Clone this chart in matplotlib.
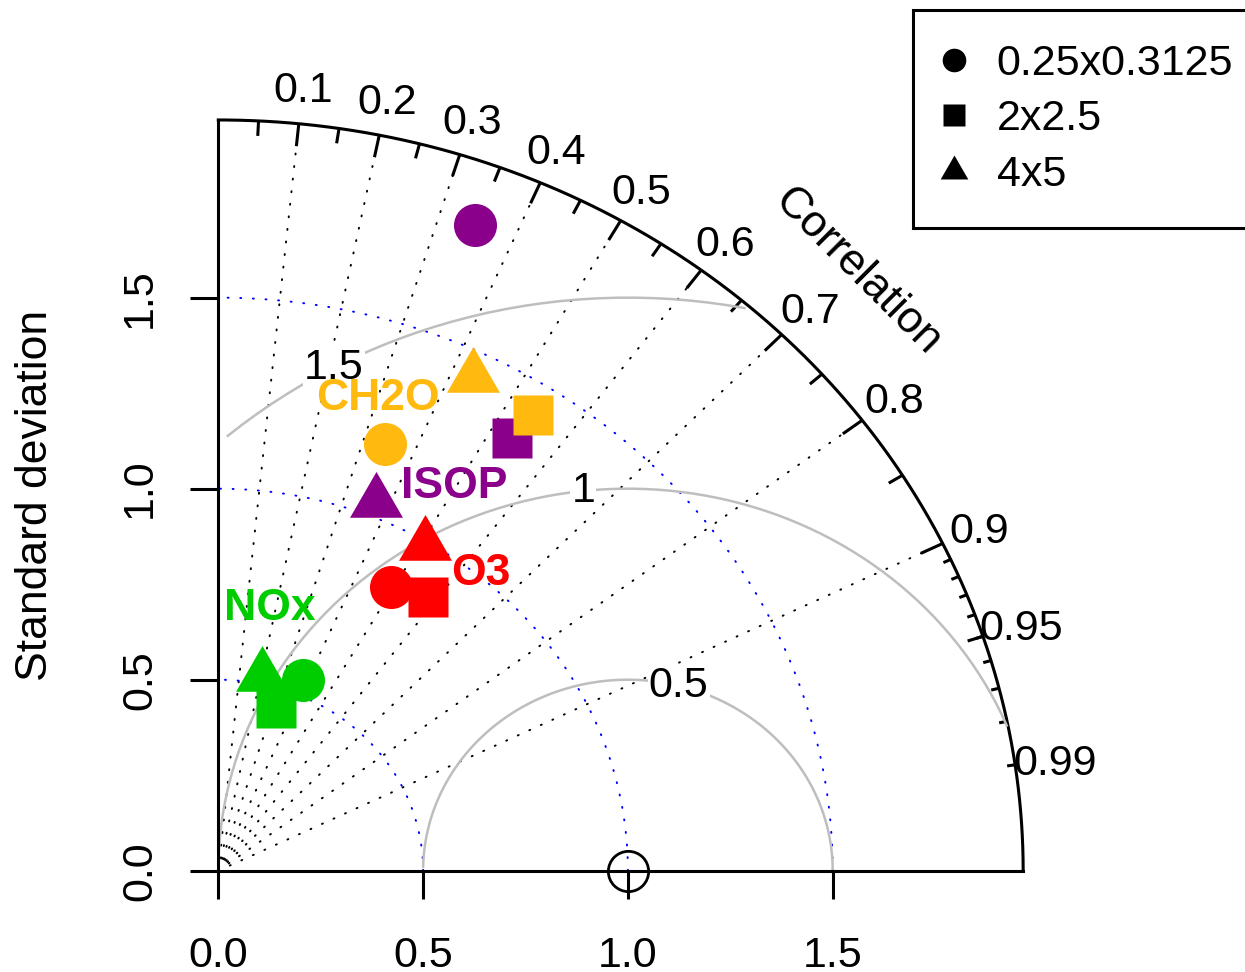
import matplotlib.pyplot as plt
import numpy as np
from matplotlib.lines import Line2D

plt.rcParams['font.family'] = ['Liberation Sans', 'DejaVu Sans']

species = ["ISOP", "CH2O", "O3", "NOx"]
species_colors = ["#8B008B", "#FFB90F", "#FF0000", "#00CD00"]
resolutions = ["0.25x0.3125", "2x2.5", "4x5"]

# standard deviation (relative to obs) for each resolution
sd_isop = [1.803, 1.340, 1.038]
sd_ch2o = [1.188, 1.418, 1.435]
sd_o3 = [0.854, 0.880, 0.991]
sd_nox = [0.540, 0.450, 0.520]

# correlation with obs for each resolution
cor_isop = [0.348, 0.535, 0.370]
cor_ch2o = [0.343, 0.542, 0.433]
cor_o3 = [0.493, 0.581, 0.508]
cor_nox = [0.382, 0.315, 0.206]

sd_all = [sd_isop, sd_ch2o, sd_o3, sd_nox]
cor_all = [cor_isop, cor_ch2o, cor_o3, cor_nox]

ref_sd = 1.0
sd_ticks = [0.0, 0.5, 1.0, 1.5]
sd_tick_labels = ["0.0", "0.5", "1.0", "1.5"]
sd_arcs = [0.5, 1.0, 1.5]
rms_levels = [0.5, 1.0, 1.5]
rms_level_labels = ["0.5", "1", "1.5"]
cor_labels = [0.1, 0.2, 0.3, 0.4, 0.5, 0.6, 0.7, 0.8, 0.9, 0.95, 0.99]

maxsd = 1.965

# R-like filled triangle (pch 17), centred on its centroid
tri = [(0, 1.5551), (-1.3468, -0.7776), (1.3468, -0.7776), (0, 1.5551)]
markers = ["o", "s", tri]
marker_sizes = [31, 29.5, 44]
legend_sizes = [17, 16, 23]

# where the species names sit (data units, text baseline)
name_pos = {"ISOP": (0.576, 0.975), "CH2O": (0.389, 1.206),
            "O3": (0.641, 0.748), "NOx": (0.125, 0.656)}

fig = plt.figure(figsize=(12.45, 9.72), dpi=100)
ax = fig.add_axes([0, 0, 1, 1])
ax.set_xlim(-0.533, 2.5066)
ax.set_ylim(-0.265, 2.279)

# axes
for s in ["top", "right"]:
    ax.spines[s].set_visible(False)
for s in ["left", "bottom"]:
    ax.spines[s].set_position(("data", 0))
    ax.spines[s].set_bounds(0, maxsd)
    ax.spines[s].set_linewidth(2.2)
ax.set_xticks(sd_ticks)
ax.set_yticks(sd_ticks)
ax.set_xticklabels(sd_tick_labels)
ax.set_yticklabels(sd_tick_labels, rotation=90, va="center")
ax.tick_params(axis="both", length=20, width=2.2, labelsize=31)
ax.tick_params(axis="x", pad=27)
ax.tick_params(axis="y", pad=22)
ax.text(-0.4475, maxsd / 2, "Standard deviation", rotation=90,
        ha="center", va="center", fontsize=32)

dots = (0, (0.5, 6))

# outer correlation arc
th = np.linspace(0, np.pi / 2, 300)
ax.plot(maxsd * np.cos(th), maxsd * np.sin(th), color="k", lw=2.2)

# correlation ticks
big = np.arange(0.1, 0.91, 0.1)
med = np.arange(0.05, 0.96, 0.1)
sml = np.arange(0.91, 0.995, 0.01)
for vals, frac in [(big, 0.97), (med, 0.98), (sml, 0.99)]:
    for c in vals:
        a = np.arccos(c)
        ax.plot([maxsd * np.cos(a), frac * maxsd * np.cos(a)],
                [maxsd * np.sin(a), frac * maxsd * np.sin(a)],
                color="k", lw=2.2, solid_capstyle="butt")

# radial correlation lines
for c in big:
    a = np.arccos(c)
    ax.plot([0, 0.97 * maxsd * np.cos(a)], [0, 0.97 * maxsd * np.sin(a)],
            color="k", lw=1.4, linestyle=dots, dash_capstyle="round")

# correlation labels
for c in cor_labels:
    a = np.arccos(c)
    ax.text(1.05 * maxsd * np.cos(a), 1.05 * maxsd * np.sin(a), f"{c:g}",
            ha="center", va="center_baseline", fontsize=31)
ax.text(1.562, 1.567, "Correlation", rotation=-45, rotation_mode="anchor",
        ha="center", va="center", fontsize=32)

# standard deviation arcs
for r in sd_arcs:
    ax.plot(r * np.cos(th), r * np.sin(th), color="blue", lw=1.4,
            linestyle=dots, dash_capstyle="round")

# centred RMS difference arcs around the reference
t = np.arange(0, np.pi, 0.03)
label_idx = [44, 56, 69]
for g, lab, k in zip(rms_levels, rms_level_labels, label_idx):
    xc = ref_sd + g * np.cos(t)
    yc = g * np.sin(t)
    keep = (xc >= 0) & (xc ** 2 + yc ** 2 <= maxsd ** 2)
    ax.plot(np.where(keep, xc, np.nan), np.where(keep, yc, np.nan),
            color="#BEBEBE", lw=1.8)
    ax.text(xc[k], yc[k], lab, ha="center", va="center", fontsize=31,
            bbox=dict(facecolor="white", edgecolor="none", pad=1))

# reference point
ax.plot(ref_sd, 0, "o", mfc="none", mec="k", ms=29, mew=2, zorder=5,
        clip_on=False)

# model points
for name, col, sds, cors in zip(species, species_colors, sd_all, cor_all):
    for sd, cr, m, ms in zip(sds, cors, markers, marker_sizes):
        a = np.arccos(cr)
        ax.plot(sd * np.cos(a), sd * np.sin(a), linestyle="none", marker=m,
                ms=ms, color=col, mec="none", zorder=6)
    px, py = name_pos[name]
    ax.text(px, py, name, color=col, fontsize=32, fontweight="bold",
            ha="center", va="baseline", zorder=7)

handles = [Line2D([], [], linestyle="none", marker=m, ms=ms, color="k",
                  mec="none") for m, ms in zip(markers, legend_sizes)]
leg = ax.legend(handles, resolutions, loc="upper left",
                bbox_to_anchor=(913 / 1245, 1 - 10 / 972),
                bbox_transform=fig.transFigure, fontsize=31,
                frameon=True, fancybox=False, framealpha=1,
                edgecolor="k", borderpad=0.78, labelspacing=0.36,
                handlelength=0.35, handletextpad=0.81, borderaxespad=0)
leg.get_frame().set_linewidth(2.2)

fig.savefig("out.png", dpi=100)
